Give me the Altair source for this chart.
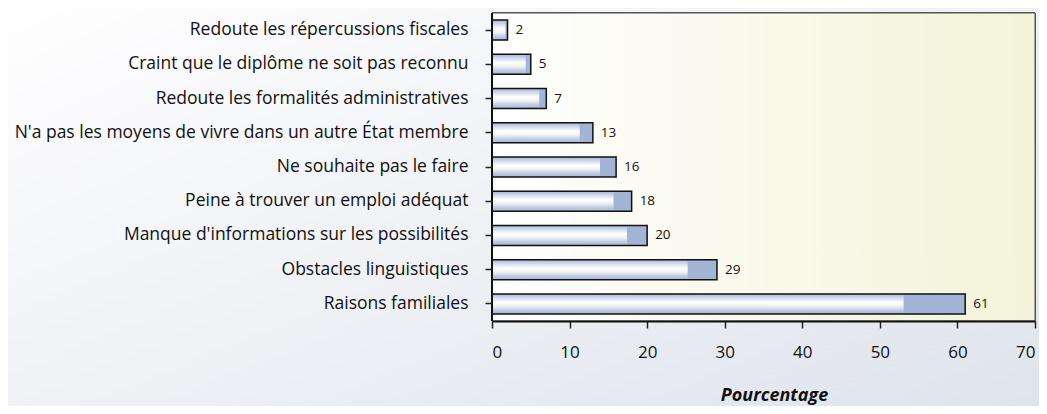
import altair as alt
import pandas as pd

categories = [
    "Redoute les répercussions fiscales",
    "Craint que le diplôme ne soit pas reconnu",
    "Redoute les formalités administratives",
    "N'a pas les moyens de vivre dans un autre État membre",
    "Ne souhaite pas le faire",
    "Peine à trouver un emploi adéquat",
    "Manque d'informations sur les possibilités",
    "Obstacles linguistiques",
    "Raisons familiales",
]
values = [2, 5, 7, 13, 16, 18, 20, 29, 61]

df = pd.DataFrame({"cat": categories, "val": values})

W, H = 543, 308
FONT = "Open Sans"

y_enc = alt.Y("cat:N", sort=categories, title=None,
              scale=alt.Scale(paddingInner=0, paddingOuter=0),
              axis=alt.Axis(labelFont=FONT, labelFontSize=17.5, labelColor="#111",
                            labelPadding=17, labelLimit=600, tickSize=7,
                            tickColor="#222", tickWidth=1.5, domain=False, zindex=1))
x_scale = alt.Scale(domain=[0, 70], nice=False)

stripe = {
    "gradient": "linear", "x1": 0, "y1": 0, "x2": 0, "y2": 1,
    "stops": [
        {"offset": 0.0, "color": "#a4b5d6"},
        {"offset": 0.15, "color": "#c6d2e8"},
        {"offset": 0.3, "color": "#e6ecf5"},
        {"offset": 0.42, "color": "#ffffff"},
        {"offset": 0.6, "color": "#f2f4f2"},
        {"offset": 0.78, "color": "#c8d2e6"},
        {"offset": 1.0, "color": "#a2b4d6"},
    ],
}

page_bg = alt.Chart(df).mark_rect(
    fill={"gradient": "linear", "x1": 0, "y1": 0, "x2": 1, "y2": 1,
          "stops": [{"offset": 0.0, "color": "#ffffff"},
                    {"offset": 0.35, "color": "#f4f5f8"},
                    {"offset": 1.0, "color": "#dde2ea"}]}
).encode(x=alt.value(-500), x2=alt.value(W + 30), y=alt.value(-20), y2=alt.value(H + 120))

plot_bg = alt.Chart(df).mark_rect(
    fill={"gradient": "linear", "x1": 0, "y1": 0, "x2": 1, "y2": 0,
          "stops": [{"offset": 0.0, "color": "#fefefd"},
                    {"offset": 1.0, "color": "#f3f3d8"}]},
    stroke="#555", strokeWidth=1
).encode(x=alt.value(0), x2=alt.value(W), y=alt.value(0), y2=alt.value(H))

base = alt.Chart(df)

bars = base.mark_bar(size=20, fill=stripe).encode(
    x=alt.X("val:Q", scale=x_scale, title="Pourcentage",
            axis=alt.Axis(values=[0, 10, 20, 30, 40, 50, 60, 70], grid=False,
                          labelFont=FONT, labelFontSize=17, labelColor="#111",
                          labelPadding=16, tickSize=7, tickColor="#222", tickWidth=1.5,
                          domainColor="#111", domainWidth=2, zindex=1,
                          titleFont=FONT, titleFontSize=18, titleFontWeight="bold",
                          titleFontStyle="italic", titleColor="#111",
                          titlePadding=26, titleX=282, titleAnchor="middle")),
    y=y_enc,
)

end_seg = base.transform_calculate(start="datum.val * 0.87").mark_bar(
    size=20, fill="#a2b5d6"
).encode(x=alt.X("start:Q", scale=x_scale), x2="val:Q", y=alt.Y("cat:N", sort=categories))

outline = base.mark_bar(size=20, fill="transparent", stroke="#111", strokeWidth=1.5).encode(
    x=alt.X("val:Q", scale=x_scale), y=alt.Y("cat:N", sort=categories))

labels = base.mark_text(align="left", dx=8, font=FONT, fontSize=13.5, color="#111").encode(
    x=alt.X("val:Q", scale=x_scale), y=alt.Y("cat:N", sort=categories), text="val:Q")

yaxis_line = alt.Chart(df).mark_rule(color="#111", strokeWidth=2).encode(
    x=alt.value(0), y=alt.value(0), y2=alt.value(H))

chart = alt.layer(page_bg, plot_bg, bars, end_seg, outline, labels, yaxis_line).properties(
    width=W, height=H,
    autosize=alt.AutoSizeParams(type="none"),
    padding={"left": 484, "top": 5, "right": 4, "bottom": 85},
).configure_view(stroke=None)

chart.save("out.html", embed_options={"renderer": "svg", "actions": False})
